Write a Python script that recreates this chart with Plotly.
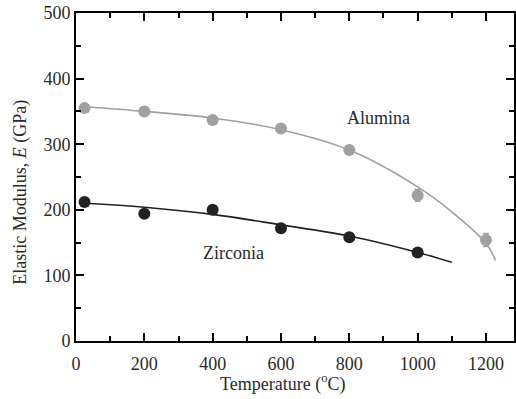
import plotly.graph_objects as go

# Measured data
temp_alumina = [25, 200, 400, 600, 800, 1000, 1200]
E_alumina = [355, 350, 337, 324, 291, 222, 154]
err_alumina = [0, 0, 0, 0, 0, 9, 10]

temp_zirconia = [25, 200, 400, 600, 800, 1000]
E_zirconia = [212, 194, 200, 172, 158, 135]

# Fitted trend curves
fit_alumina_T = [25, 200, 400, 600, 800, 1000, 1100, 1200, 1228]
fit_alumina_E = [357, 350, 340, 322, 291, 235, 197, 149, 123]
fit_zirconia_T = [25, 200, 400, 600, 800, 1000, 1100]
fit_zirconia_E = [210, 204, 193, 177, 160, 135, 120]

FONT = "Liberation Serif"
grey = "#a0a0a2"
dark = "#222222"
txt = "#2a2a2a"

fig = go.Figure()
fig.add_trace(go.Scatter(x=fit_alumina_T, y=fit_alumina_E, mode="lines",
                         line=dict(color=grey, width=1.6, shape="spline"), showlegend=False))
fig.add_trace(go.Scatter(x=fit_zirconia_T, y=fit_zirconia_E, mode="lines",
                         line=dict(color=dark, width=1.6, shape="spline"), showlegend=False))
fig.add_trace(go.Scatter(x=temp_alumina, y=E_alumina, mode="markers",
                         marker=dict(color=grey, size=12),
                         error_y=dict(type="data", array=err_alumina, color=grey, thickness=1.5, width=3),
                         showlegend=False))
fig.add_trace(go.Scatter(x=temp_zirconia, y=E_zirconia, mode="markers",
                         marker=dict(color=dark, size=12), showlegend=False))

axis_common = dict(showline=True, linecolor="black", linewidth=2, mirror="ticks",
                   ticks="inside", tickcolor="black", tickwidth=2, ticklen=8,
                   showgrid=False, zeroline=False,
                   tickfont=dict(family=FONT, size=18, color=txt))

fig.update_xaxes(range=[0, 1282], tick0=0, dtick=200, ticklabelstandoff=5,
                 minor=dict(ticks="inside", dtick=100, ticklen=5, tickwidth=2, tickcolor="black"),
                 **axis_common)
fig.update_yaxes(range=[0, 500], tick0=0, dtick=100,
                 minor=dict(ticks="inside", dtick=50, ticklen=5, tickwidth=2, tickcolor="black"),
                 **axis_common)

fig.add_annotation(x=885, y=340, text="Alumina", showarrow=False,
                   font=dict(family=FONT, size=18, color=txt))
fig.add_annotation(x=460, y=134, text="Zirconia", showarrow=False,
                   font=dict(family=FONT, size=18, color=txt))
fig.add_annotation(xref="paper", yref="paper", x=(283 - 76) / 440, y=-(383 - 341) / 328,
                   xanchor="center", yanchor="middle",
                   text="Temperature (<sup>o</sup>C)", showarrow=False,
                   font=dict(family=FONT, size=18, color=txt))
fig.add_annotation(xref="paper", yref="paper", x=-(76 - 20) / 440, y=(341 - 192.5) / 328,
                   xanchor="center", yanchor="middle",
                   text="Elastic Modulus, <i>E</i> (GPa)", showarrow=False, textangle=-90,
                   font=dict(family=FONT, size=18, color=txt))

fig.update_layout(width=516, height=399, margin=dict(l=76, r=0, t=13, b=58),
                  paper_bgcolor="white", plot_bgcolor="white")
fig.write_html("out.html")
